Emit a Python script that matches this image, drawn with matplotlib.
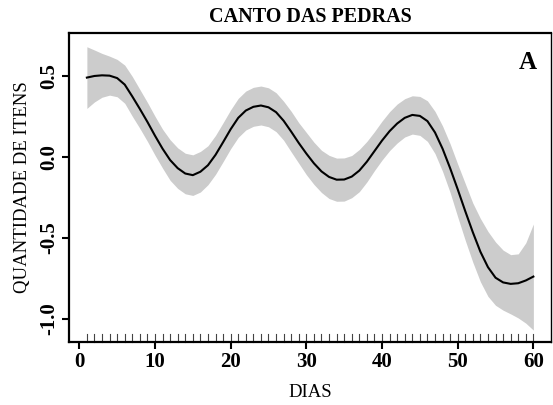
import matplotlib
matplotlib.use("Agg")
import matplotlib.pyplot as plt
import numpy as np

# smoothed trend and its confidence band, one value per day
dias = list(range(1, 61))
fit = [0.488, 0.498, 0.502, 0.500, 0.485, 0.445, 0.372, 0.295, 0.215, 0.130,
       0.050, -0.020, -0.070, -0.103, -0.113, -0.092, -0.052, 0.012, 0.090, 0.170,
       0.240, 0.285, 0.308, 0.316, 0.305, 0.275, 0.222, 0.155, 0.085, 0.020,
       -0.040, -0.090, -0.124, -0.141, -0.140, -0.122, -0.085, -0.030, 0.035, 0.100,
       0.158, 0.205, 0.240, 0.258, 0.252, 0.220, 0.150, 0.050, -0.070, -0.200,
       -0.335, -0.465, -0.585, -0.680, -0.745, -0.774, -0.783, -0.779, -0.762, -0.738]
upper = [0.678, 0.658, 0.637, 0.620, 0.600, 0.565, 0.495, 0.415, 0.335, 0.250,
         0.170, 0.105, 0.055, 0.022, 0.012, 0.033, 0.068, 0.132, 0.210, 0.290,
         0.360, 0.405, 0.428, 0.436, 0.425, 0.395, 0.342, 0.280, 0.210, 0.150,
         0.090, 0.040, 0.009, -0.008, -0.007, 0.008, 0.045, 0.095, 0.155, 0.220,
         0.278, 0.325, 0.358, 0.376, 0.372, 0.345, 0.280, 0.190, 0.080, -0.045,
         -0.165, -0.285, -0.380, -0.460, -0.525, -0.575, -0.603, -0.598, -0.530, -0.414]
lower = [0.298, 0.338, 0.367, 0.380, 0.370, 0.330, 0.250, 0.175, 0.095, 0.010,
         -0.070, -0.145, -0.195, -0.228, -0.238, -0.217, -0.172, -0.108, -0.030, 0.050,
         0.120, 0.165, 0.188, 0.196, 0.185, 0.155, 0.102, 0.030, -0.040, -0.110,
         -0.170, -0.220, -0.257, -0.274, -0.273, -0.252, -0.215, -0.155, -0.085, -0.020,
         0.038, 0.085, 0.122, 0.140, 0.132, 0.095, 0.020, -0.090, -0.220, -0.370,
         -0.515, -0.650, -0.770, -0.860, -0.915, -0.945, -0.968, -0.993, -1.025, -1.068]
xticks = [0, 10, 20, 30, 40, 50, 60]
yticks = [-1.0, -0.5, 0.0, 0.5]

plt.rcParams['font.family'] = ['Liberation Serif', 'DejaVu Serif']

fig = plt.figure(figsize=(5.53, 4.05), dpi=100)
ax = fig.add_axes([0.1248, 0.1556, 0.872, 0.763])

ax.fill_between(dias, lower, upper, color='#cccccc', lw=0)
ax.plot(dias, fit, color='black', lw=1.5)

# rug of observation days
ymin = -1.141
for d in dias:
    ax.plot([d, d], [ymin, ymin + 0.052], color='#444444', lw=0.8, clip_on=False)

ax.set_xlim(-1.36, 62.36)
ax.set_ylim(ymin, 0.763)
ax.set_xticks(xticks)
ax.set_xticklabels([str(t) for t in xticks], fontsize=15, fontweight='bold')
ax.set_yticks(yticks)
ax.set_yticklabels(['%.1f' % t for t in yticks], fontsize=15, fontweight='bold',
                   rotation=90, va='center')
ax.tick_params(direction='out', length=5, width=1.5, pad=2)

for s in ['left', 'bottom', 'top']:
    ax.spines[s].set_linewidth(1.6)
ax.spines['right'].set_linewidth(1.0)

ax.set_title('CANTO DAS PEDRAS', fontsize=14.5, fontweight='bold', pad=8)
ax.set_xlabel('DIAS', fontsize=13.5, labelpad=9)
ax.set_ylabel('QUANTIDADE DE ITENS', fontsize=13.5, labelpad=6)
ax.text(0.971, 0.905, 'A', transform=ax.transAxes, fontsize=18, fontweight='bold',
        ha='right', va='center')

fig.savefig('out.png', dpi=100)
